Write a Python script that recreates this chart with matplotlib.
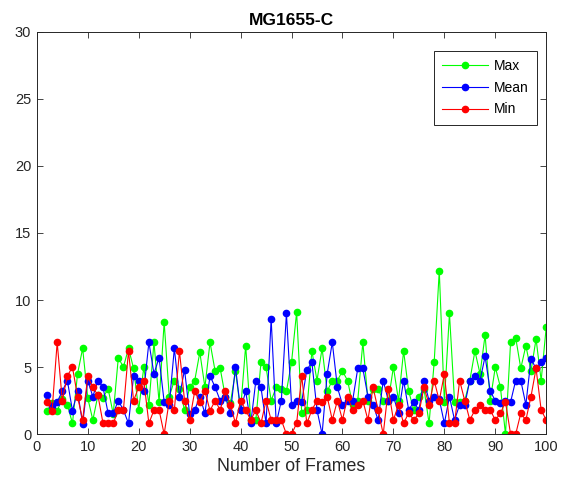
import numpy as np
import matplotlib
matplotlib.use("Agg")
import matplotlib.pyplot as plt

# Frame index and per-frame values
frames = list(range(2, 101))

max_vals = [1.75, 2.3, 1.75, 2.6, 2.2, 0.8, 4.5, 6.4, 2.7, 1.05,
            2.9, 2.7, 3.4, 1.5, 5.7, 5.0, 6.4, 4.9, 1.8, 5.0,
            2.2, 6.85, 2.4, 8.35, 2.8, 4.0, 3.4, 1.8, 3.5, 4.0,
            6.1, 3.5, 6.85, 4.7, 4.9, 2.8, 2.3, 4.7, 1.8, 6.6,
            1.05, 1.05, 5.35, 5.0, 2.5, 3.5, 3.4, 3.2, 5.35, 9.1,
            1.55, 1.8, 6.2, 4.0, 6.4, 3.2, 4.0, 4.0, 4.7, 4.0,
            2.2, 2.5, 6.85, 2.5, 3.4, 3.4, 2.5, 2.5, 5.0, 2.5,
            6.2, 3.2, 1.8, 2.8, 3.4, 0.8, 5.35, 12.2, 2.4, 9.0,
            2.4, 2.4, 2.5, 4.0, 6.2, 4.5, 7.4, 2.5, 5.0, 3.5,
            0.0, 6.85, 7.2, 4.9, 6.6, 4.7, 7.1, 4.0, 8.0]

mean_vals = [2.9, 2.1, 2.4, 3.2, 4.0, 1.75, 3.2, 0.75, 4.0, 2.8,
             4.0, 3.5, 1.55, 1.55, 2.5, 1.8, 0.8, 4.35, 4.0, 3.2,
             6.85, 4.5, 5.7, 2.4, 2.2, 6.4, 2.8, 4.8, 1.5, 1.8,
             2.8, 1.55, 4.35, 3.5, 2.5, 2.8, 1.55, 5.0, 1.8, 3.2,
             0.8, 4.0, 3.5, 0.8, 8.6, 0.8, 2.5, 9.0, 2.2, 2.5,
             2.4, 4.8, 5.35, 1.8, 0.0, 4.5, 6.85, 3.5, 2.2, 2.5,
             2.5, 4.9, 4.9, 2.8, 2.2, 1.05, 4.0, 2.5, 2.8, 1.55,
             4.0, 1.8, 2.4, 1.8, 4.0, 2.5, 2.8, 2.6, 0.8, 2.8,
             1.05, 2.2, 2.2, 4.0, 4.35, 4.0, 5.8, 3.2, 2.5, 2.3,
             2.5, 2.4, 4.0, 4.0, 2.2, 5.6, 4.9, 5.35, 5.7]

min_vals = [2.4, 1.75, 6.85, 2.5, 4.35, 5.0, 2.8, 1.05, 4.3, 3.5,
            2.9, 0.8, 0.8, 0.8, 1.8, 1.8, 6.2, 2.5, 3.5, 4.0,
            0.8, 1.8, 1.8, 0.0, 2.5, 1.8, 6.2, 2.5, 1.05, 3.2,
            2.4, 3.2, 1.75, 2.5, 1.8, 3.2, 2.2, 0.8, 2.5, 1.8,
            1.05, 1.8, 0.8, 2.5, 1.05, 1.05, 1.05, 0.0, 0.0, 0.8,
            4.35, 0.8, 1.8, 2.5, 2.4, 2.8, 1.05, 2.5, 1.05, 2.8,
            1.8, 2.2, 2.5, 1.05, 3.5, 1.8, 0.0, 3.4, 1.05, 2.2,
            0.8, 1.6, 1.05, 1.55, 3.5, 2.2, 4.0, 2.5, 4.5, 0.8,
            0.8, 4.0, 2.5, 1.05, 1.8, 2.2, 1.8, 1.8, 1.05, 1.55,
            2.4, 0.0, 0.0, 1.55, 1.05, 2.8, 4.9, 1.8, 1.05]

plt.rcParams["font.family"] = ["Liberation Sans", "DejaVu Sans"]

fig = plt.figure(figsize=(5.75, 4.9), dpi=100)
ax = fig.add_axes([0.064, 0.114, 0.886, 0.821])

axcol = "#262626"
ax.plot(frames, max_vals, "-o", color=(0, 1, 0), lw=0.8, ms=4.5, label="Max")
ax.plot(frames, mean_vals, "-o", color=(0, 0, 1), lw=0.8, ms=4.5, label="Mean")
ax.plot(frames, min_vals, "-o", color=(1, 0, 0), lw=0.8, ms=4.5, label="Min")

ax.set_xlim(0, 100)
ax.set_ylim(0, 30)
ax.set_xticks(np.arange(0, 101, 10))
ax.set_yticks(np.arange(0, 31, 5))
ax.tick_params(direction="in", top=True, right=True, length=4, width=0.6,
               colors=axcol, labelsize=10.5, pad=4)
for s in ax.spines.values():
    s.set_color(axcol)
    s.set_linewidth(0.7)

ax.set_title("MG1655-C", fontsize=12.5, fontweight="bold", color="black", pad=5)
ax.set_xlabel("Number of Frames", fontsize=12.8, color=axcol, labelpad=3)

leg = ax.legend(loc="upper right", bbox_to_anchor=(0.982, 0.953), fontsize=10,
                handlelength=3.3, borderpad=0.6, labelspacing=0.55,
                fancybox=False, framealpha=1, edgecolor=axcol, handletextpad=0.45,
                borderaxespad=0.0)
leg.get_frame().set_linewidth(0.7)

fig.savefig("out.png", dpi=100)
